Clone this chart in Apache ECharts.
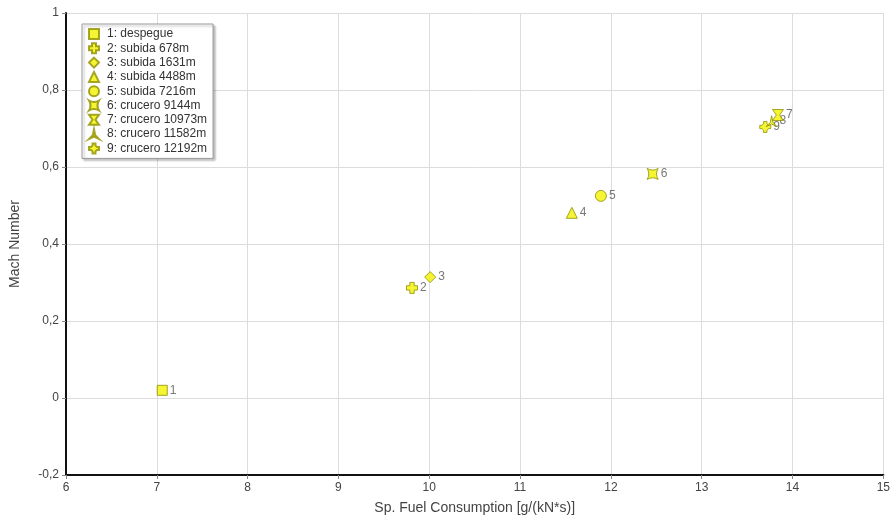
<!DOCTYPE html>
<html>
<head>
<meta charset="utf-8">
<script src="https://cdn.jsdelivr.net/npm/echarts@6/dist/echarts.min.js"></script>
<style>html,body{margin:0;padding:0;background:#fff}#c{width:893px;height:520px}</style>
</head>
<body>
<div id="c"></div>
<script>
var names = ['1: despegue','2: subida 678m','3: subida 1631m','4: subida 4488m','5: subida 7216m','6: crucero 9144m','7: crucero 10973m','8: crucero 11582m','9: crucero 12192m'];
var pointLabels = ['1','2','3','4','5','6','7','8','9'];
var xValues = [7.06, 9.81, 10.01, 11.57, 11.89, 12.46, 13.84, 13.77, 13.70];
var yValues = [0.02, 0.286, 0.314, 0.481, 0.525, 0.582, 0.735, 0.719, 0.704];
var symbols = [
  'rect',
  'path://M3,0H7V3H10V7H7V10H3V7H0V3H3Z',
  'diamond',
  'triangle',
  'circle',
  'path://M0,0Q5,3 10,0Q7,5 10,10Q5,7 0,10Q3,5 0,0Z',
  'path://M0,0L10,0L6.5,5L10,10L0,10L3.5,5Z',
  'path://M5,0L6.2,6L10,10L5,7.6L0,10L3.8,6Z',
  'path://M3.5,0H6.5V2L8,3.5H10V6.5H8L6.5,8V10H3.5V8L2,6.5H0V3.5H2L3.5,2Z'
];
var fill = '#f2f200';
var edge = '#8f8f00';
var font = 'Liberation Sans, Arial';

var chart = echarts.init(document.getElementById('c'));
var series = names.map(function(n, i){
  return {
    name: n,
    type: 'scatter',
    symbol: symbols[i],
    symbolSize: i === 0 ? 10 : 11,
    itemStyle: {color: fill, borderColor: edge, borderWidth: 1},
    label: {show: true, position: 'right', distance: 2, formatter: pointLabels[i], color: '#555', fontSize: 12, fontFamily: font},
    data: [[xValues[i], yValues[i]]],
    z: 10 - i
  };
});
function fmt(v){ return String(Math.round(v*10)/10).replace('.', ','); }
chart.setOption({
  animation: false,
  backgroundColor: '#fff',
  grid: {left: 66, right: 9, top: 13, bottom: 45, containLabel: false},
  legend: {
    orient: 'vertical', left: 82, top: 24,
    itemWidth: 10, itemHeight: 10, itemGap: 2.3,
    padding: [4, 6, 4, 6],
    backgroundColor: '#fff', borderColor: '#999', borderWidth: 1,
    shadowColor: 'rgba(0,0,0,0.25)', shadowBlur: 2, shadowOffsetX: 2, shadowOffsetY: 2,
    textStyle: {fontSize: 12, lineHeight: 12, color: '#333', fontFamily: font, padding: [0,0,0,3]},
    data: names.map(function(n){ return {name: n}; })
  },
  xAxis: {
    type: 'value', min: 6, max: 15, interval: 1,
    name: 'Sp. Fuel Consumption [g/(kN*s)]', nameLocation: 'middle', nameGap: 26,
    nameTextStyle: {fontSize: 14, color: '#444', fontFamily: font},
    axisLine: {show: true, onZero: false, lineStyle: {color: '#111', width: 2}},
    axisTick: {show: true, length: 4, lineStyle: {color: '#888'}},
    axisLabel: {fontSize: 12, color: '#444', margin: 7, fontFamily: font},
    splitLine: {show: true, lineStyle: {color: '#dcdcdc'}}
  },
  yAxis: {
    type: 'value', min: -0.2, max: 1, interval: 0.2,
    name: 'Mach Number', nameLocation: 'middle', nameGap: 44, nameRotate: 90,
    nameTextStyle: {fontSize: 14, color: '#444', fontFamily: font},
    axisLine: {show: true, onZero: false, lineStyle: {color: '#111', width: 2}},
    axisTick: {show: true, length: 4, lineStyle: {color: '#888'}},
    axisLabel: {fontSize: 12, color: '#444', margin: 7, formatter: fmt, fontFamily: font},
    splitLine: {show: true, lineStyle: {color: '#dcdcdc'}}
  },
  series: series
});
</script>
</body>
</html>
